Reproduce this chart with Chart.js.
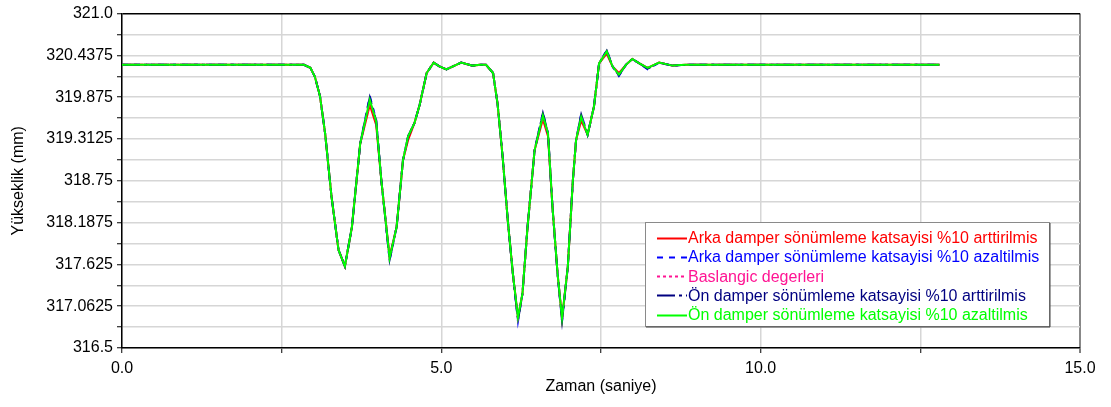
<!DOCTYPE html>
<html>
<head>
<meta charset="utf-8">
<script src="https://cdn.jsdelivr.net/npm/chart.js@4/dist/chart.umd.min.js"></script>
<style>
    body { margin: 0; background: #fff; }
    #wrap { width: 1111px; height: 407px; }
</style>
</head>
<body>
<div id="wrap"><canvas id="heightChart" width="1111" height="407"></canvas></div>
<script>
// time axis (s)
var zamanSaniye = [0, 2.85, 2.95, 3.02, 3.10, 3.18, 3.28, 3.39, 3.49, 3.60,
    3.73, 3.88, 3.98, 4.06, 4.19, 4.30, 4.40, 4.48, 4.58, 4.66,
    4.77, 4.88, 4.97, 5.08, 5.31, 5.49, 5.60, 5.70, 5.81, 5.88,
    5.96, 6.04, 6.12, 6.20, 6.27, 6.35, 6.46, 6.59, 6.67, 6.74,
    6.82, 6.89, 6.98, 7.06, 7.11, 7.19, 7.29, 7.39, 7.47, 7.59,
    7.68, 7.78, 7.89, 7.99, 8.10, 8.23, 8.41, 8.62, 8.82, 12.80];

// height values (mm), one list per run
var arkaArttirilmis = [320.31, 320.31, 320.27, 320.15, 319.89, 319.39, 318.54, 317.82, 317.60, 318.13,
    319.25, 319.77, 319.50, 318.76, 317.73, 318.13, 319.03, 319.30, 319.53, 319.77,
    320.20, 320.34, 320.29, 320.25, 320.34, 320.30, 320.31, 320.31, 320.20, 319.79,
    319.07, 318.22, 317.50, 316.91, 317.23, 318.13, 319.16, 319.58, 319.35, 318.40,
    317.50, 316.90, 317.59, 318.76, 319.30, 319.56, 319.37, 319.75, 320.33, 320.46,
    320.29, 320.20, 320.31, 320.39, 320.33, 320.27, 320.34, 320.30, 320.31, 320.31];
var arkaAzaltilmis = [320.31, 320.31, 320.27, 320.15, 319.89, 319.39, 318.54, 317.82, 317.60, 318.13,
    319.25, 319.89, 319.57, 318.76, 317.68, 318.13, 319.03, 319.35, 319.53, 319.77,
    320.20, 320.34, 320.29, 320.25, 320.34, 320.30, 320.31, 320.31, 320.20, 319.79,
    319.07, 318.22, 317.50, 316.86, 317.23, 318.13, 319.16, 319.67, 319.39, 318.40,
    317.50, 316.86, 317.59, 318.76, 319.30, 319.65, 319.37, 319.75, 320.33, 320.51,
    320.29, 320.16, 320.31, 320.39, 320.33, 320.25, 320.34, 320.30, 320.31, 320.31];
var baslangic = [320.31, 320.31, 320.27, 320.15, 319.89, 319.39, 318.54, 317.82, 317.60, 318.13,
    319.25, 319.82, 319.55, 318.76, 317.71, 318.13, 319.03, 319.35, 319.53, 319.77,
    320.20, 320.34, 320.29, 320.25, 320.34, 320.30, 320.31, 320.31, 320.20, 319.79,
    319.07, 318.22, 317.50, 316.91, 317.23, 318.13, 319.16, 319.62, 319.39, 318.40,
    317.50, 316.90, 317.59, 318.76, 319.30, 319.61, 319.37, 319.75, 320.33, 320.49,
    320.29, 320.18, 320.31, 320.39, 320.33, 320.27, 320.34, 320.30, 320.31, 320.31];
var onArttirilmis = [320.31, 320.31, 320.27, 320.15, 319.89, 319.39, 318.54, 317.82, 317.60, 318.13,
    319.25, 319.87, 319.56, 318.76, 317.69, 318.13, 319.03, 319.35, 319.53, 319.77,
    320.20, 320.34, 320.29, 320.25, 320.34, 320.30, 320.31, 320.31, 320.20, 319.79,
    319.07, 318.22, 317.50, 316.87, 317.23, 318.13, 319.16, 319.66, 319.39, 318.40,
    317.50, 316.87, 317.59, 318.76, 319.30, 319.64, 319.37, 319.75, 320.33, 320.50,
    320.29, 320.17, 320.31, 320.39, 320.33, 320.26, 320.34, 320.30, 320.31, 320.31];
var onAzaltilmis = [320.31, 320.31, 320.27, 320.15, 319.89, 319.39, 318.54, 317.82, 317.60, 318.13,
    319.25, 319.84, 319.55, 318.76, 317.71, 318.13, 319.03, 319.35, 319.53, 319.77,
    320.20, 320.34, 320.29, 320.25, 320.34, 320.30, 320.31, 320.31, 320.20, 319.79,
    319.07, 318.22, 317.50, 316.91, 317.23, 318.13, 319.16, 319.63, 319.39, 318.40,
    317.50, 316.90, 317.59, 318.76, 319.30, 319.61, 319.37, 319.75, 320.33, 320.49,
    320.29, 320.18, 320.31, 320.39, 320.33, 320.27, 320.34, 320.30, 320.31, 320.31];

var seriesNames = [
    "Arka damper sönümleme katsayisi %10 arttirilmis",
    "Arka damper sönümleme katsayisi %10 azaltilmis",
    "Baslangic degerleri",
    "Ön damper sönümleme katsayisi %10 arttirilmis",
    "Ön damper sönümleme katsayisi %10 azaltilmis"
];

// ticks
var yTickValues = [316.5, 316.78125, 317.0625, 317.34375, 317.625, 317.90625, 318.1875, 318.46875,
    318.75, 319.03125, 319.3125, 319.59375, 319.875, 320.15625, 320.4375, 320.71875, 321.0];
var yTickLabels = ["316.5", "317.0625", "317.625", "318.1875", "318.75", "319.3125", "319.875", "320.4375", "321.0"];
var xTickValues = [0, 2.5, 5, 7.5, 10, 12.5, 15];
var xTickLabels = ["0.0", "5.0", "10.0", "15.0"];

var FONT = '"Liberation Sans", Arial, sans-serif';
Chart.defaults.font.family = FONT;
Chart.defaults.font.size = 16;
Chart.defaults.color = "#000";

function toPoints(values) {
    return zamanSaniye.map(function(t, i) { return {x: t, y: values[i]}; });
}

function makeSet(idx, values, color, dash, order) {
    return {
        label: seriesNames[idx],
        data: toPoints(values),
        borderColor: color,
        backgroundColor: color,
        borderWidth: 2,
        borderDash: dash,
        pointRadius: 0,
        tension: 0,
        fill: false,
        order: order
    };
}

// legend box drawn inside the plot (bottom right)
var legendBox = {
    id: 'legendBox',
    afterDatasetsDraw: function(chart) {
        var ctx = chart.ctx;
        var area = chart.chartArea;
        var sets = chart.data.datasets;
        var right = area.right - 31, bottom = area.bottom - 22;
        var left = right - 404, top = bottom - 104;
        ctx.save();
        ctx.fillStyle = "#fff";
        ctx.fillRect(left, top, right - left, bottom - top);
        ctx.strokeStyle = "#8a8a8a";
        ctx.lineWidth = 1;
        ctx.strokeRect(left + 0.5, top + 0.5, right - left, bottom - top);
        ctx.strokeStyle = "#444";
        ctx.beginPath();
        ctx.moveTo(left + 1, bottom + 1);
        ctx.lineTo(right + 1, bottom + 1);
        ctx.lineTo(right + 1, top + 1);
        ctx.stroke();
        ctx.font = "16px " + FONT;
        ctx.textBaseline = "middle";
        for (var i = 0; i < sets.length; i++) {
            var y = top + 15.5 + i * 19.3;
            ctx.strokeStyle = sets[i].borderColor;
            ctx.lineWidth = 2;
            ctx.setLineDash(sets[i].borderDash);
            ctx.beginPath();
            ctx.moveTo(left + 12, Math.round(y) + 0.5);
            ctx.lineTo(left + 42, Math.round(y) + 0.5);
            ctx.stroke();
            ctx.setLineDash([]);
            ctx.fillStyle = sets[i].borderColor;
            ctx.fillText(sets[i].label, left + 43, y + 1);
        }
        ctx.restore();
    }
};

var heightChart = new Chart(document.getElementById("heightChart"), {
    type: 'line',
    data: {
        datasets: [
            makeSet(0, arkaArttirilmis, "#ff0000", [], 5),
            makeSet(1, arkaAzaltilmis, "#0000ff", [6, 6], 4),
            makeSet(2, baslangic, "#ff1493", [3, 3], 3),
            makeSet(3, onArttirilmis, "#000080", [18, 4, 3, 4], 2),
            makeSet(4, onAzaltilmis, "#00ff00", [], 1)
        ]
    },
    options: {
        responsive: false,
        animation: false,
        layout: { padding: { top: 13, right: 31, left: 0, bottom: 0 } },
        plugins: {
            legend: { display: false },
            tooltip: { enabled: false }
        },
        scales: {
            x: {
                type: 'linear',
                min: 0,
                max: 15,
                afterFit: function(scale) { scale.height = 59; },
                afterBuildTicks: function(scale) {
                    scale.ticks = xTickValues.map(function(v) { return {value: v}; });
                },
                ticks: {
                    autoSkip: false,
                    maxRotation: 0,
                    padding: 6,
                    callback: function(v) {
                        var s = v.toFixed(1);
                        return xTickLabels.indexOf(s) >= 0 ? s : '';
                    }
                },
                grid: {
                    color: function(c) { return c.tick && c.tick.value === 15 ? "#888" : "#d6d6d6"; },
                    lineWidth: function(c) { return c.tick && c.tick.value === 15 ? 2 : 1.5; },
                    tickColor: "#000",
                    tickLength: 5,
                    tickWidth: 1
                },
                border: { color: "#000", width: 1.5 },
                title: {
                    display: true,
                    text: "Zaman (saniye)",
                    font: { size: 16 },
                    padding: { top: 0, bottom: 11 }
                }
            },
            y: {
                type: 'linear',
                min: 316.5,
                max: 321,
                afterFit: function(scale) { scale.width = 122; },
                afterBuildTicks: function(scale) {
                    scale.ticks = yTickValues.map(function(v) { return {value: v}; });
                },
                ticks: {
                    autoSkip: false,
                    padding: 4,
                    callback: function(v) {
                        var s = (v % 1 === 0) ? v.toFixed(1) : String(v);
                        return yTickLabels.indexOf(s) >= 0 ? s : '';
                    }
                },
                grid: {
                    color: function(c) { return c.tick && c.tick.value === 321 ? "#000" : "#d6d6d6"; },
                    lineWidth: 1.5,
                    tickColor: "#000",
                    tickLength: 5,
                    tickWidth: 1
                },
                border: { color: "#000", width: 1.5 },
                title: {
                    display: true,
                    text: "Yükseklik (mm)",
                    font: { size: 16 },
                    padding: { top: 9, bottom: 0 }
                }
            }
        }
    },
    plugins: [legendBox]
});
</script>
</body>
</html>
